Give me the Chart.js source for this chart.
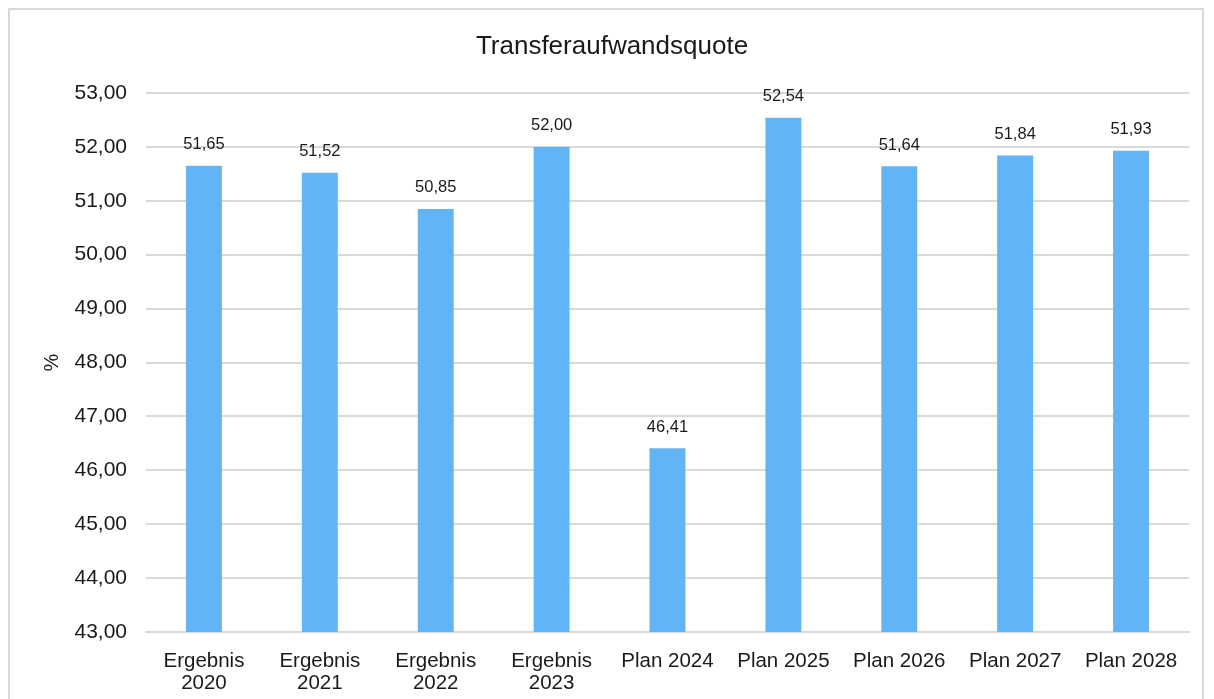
<!DOCTYPE html>
<html><head><meta charset="utf-8">
<script src="https://cdn.jsdelivr.net/npm/chart.js@4/dist/chart.umd.min.js"></script>
<style>
html,body{margin:0;padding:0;background:#fff;}
#frame{position:absolute;left:8px;top:8px;width:1196px;height:720px;border:2px solid #d9d9d9;box-sizing:border-box;}
#wrap{position:absolute;left:0;top:0;width:1214px;height:699px;}
</style></head>
<body>
<div id="frame"></div>
<div id="wrap"><canvas id="c" width="1214" height="699"></canvas></div>
<script>
const categories = [["Ergebnis","2020"],["Ergebnis","2021"],["Ergebnis","2022"],["Ergebnis","2023"],"Plan 2024","Plan 2025","Plan 2026","Plan 2027","Plan 2028"];
const values = [51.65, 51.52, 50.85, 52.00, 46.41, 52.54, 51.64, 51.84, 51.93];
const yMin = 43, yMax = 53, yStep = 1;
const fmt = v => v.toFixed(2).replace('.', ',');
const FONT = '"Liberation Sans", Arial, sans-serif';

const labelPlugin = {
  id: 'valueLabels',
  afterDatasetsDraw(chart) {
    const ctx = chart.ctx;
    const meta = chart.getDatasetMeta(0);
    ctx.save();
    ctx.font = '16.5px ' + FONT;
    ctx.fillStyle = '#1a1a1a';
    ctx.textAlign = 'center';
    ctx.textBaseline = 'middle';
    meta.data.forEach((bar, i) => {
      ctx.fillText(fmt(values[i]), bar.x, bar.y - 21);
    });
    ctx.restore();
  }
};

new Chart(document.getElementById('c'), {
  type: 'bar',
  data: {
    labels: categories,
    datasets: [{
      data: values,
      backgroundColor: '#63b4f5',
      borderWidth: 0,
      barPercentage: 1,
      categoryPercentage: 0.31
    }]
  },
  options: {
    responsive: false,
    animation: false,
    events: [],
    layout: { padding: { left: 35, right: 25, top: 0, bottom: 0 } },
    plugins: {
      legend: { display: false },
      tooltip: { enabled: false },
      title: {
        display: true,
        text: 'Transferaufwandsquote',
        color: '#1a1a1a',
        font: { family: FONT, size: 26, weight: 'normal', lineHeight: 1.2 },
        padding: { top: 31.4, bottom: 30.4 }
      }
    },
    scales: {
      x: {
        grid: { display: false, drawTicks: false },
        border: { display: true, color: '#d9d9d9', width: 2 },
        ticks: {
          color: '#1a1a1a',
          padding: 18,
          maxRotation: 0,
          autoSkip: false,
          font: { family: FONT, size: 20.5, lineHeight: 1.1 }
        },
        afterFit(scale) { scale.height = 67; }
      },
      y: {
        min: yMin, max: yMax,
        grid: { color: '#d9d9d9', lineWidth: 2, drawTicks: false },
        border: { display: false },
        ticks: {
          stepSize: yStep,
          color: '#1a1a1a',
          padding: 19,
          font: { family: FONT, size: 21 },
          callback: v => fmt(v)
        },
        title: {
          display: true,
          text: '%',
          color: '#1a1a1a',
          font: { family: FONT, size: 20, lineHeight: 1.2 },
          padding: { top: 5, bottom: 0 }
        },
        afterFit(scale) { scale.width = 111; }
      }
    }
  },
  plugins: [labelPlugin]
});
</script>
</body></html>
